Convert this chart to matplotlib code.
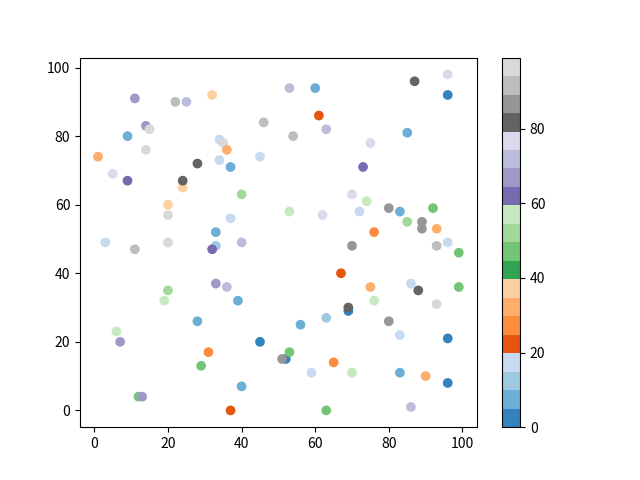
import numpy as np
import matplotlib
matplotlib.use("Agg")
import matplotlib.pyplot as plt

plt.rcParams['font.family'] = ['Noto Sans CJK SC', 'DejaVu Sans']

# Datos: posicion (x, y) y valor de color c
x = [11, 22, 25, 32, 46, 14, 15, 9, 34, 35, 36, 14, 1, 45, 34, 37, 28, 5, 9,
     24, 24, 40, 20, 20, 37, 33, 3, 11, 20, 33, 32, 40,
     53, 60, 87, 96, 96, 61, 63, 54, 85, 75, 73, 70, 74, 53, 62, 72, 80, 83,
     92, 85, 89, 89, 93, 76, 70, 93, 96,
     33, 36, 20, 19, 39, 28, 6, 7, 45, 31, 29, 40, 12, 13, 37,
     99, 67, 75, 86, 88, 99, 76, 93, 69, 69, 63, 56, 80, 83, 96, 52, 51, 53,
     65, 59, 70, 83, 90, 96, 63, 86]
y = [91, 90, 90, 92, 84, 83, 82, 80, 79, 78, 76, 76, 74, 74, 73, 71, 72, 69, 67,
     65, 67, 63, 60, 57, 56, 52, 49, 47, 49, 48, 47, 49,
     94, 94, 96, 98, 92, 86, 82, 80, 81, 78, 71, 63, 61, 58, 57, 58, 59, 58,
     59, 55, 55, 53, 53, 52, 48, 48, 49,
     37, 36, 35, 32, 32, 26, 23, 20, 20, 17, 13, 7, 4, 4, 0,
     46, 40, 36, 37, 35, 36, 32, 31, 29, 30, 27, 25, 26, 22, 21, 15, 15, 17,
     14, 11, 11, 11, 10, 8, 0, 1]
# indice del color dentro de tab20c (20 tramos entre 0 y 99)
tramo = [13, 18, 14, 7, 18, 13, 19, 1, 3, 19, 6, 19, 6, 3, 3, 1, 16, 15, 12,
         7, 16, 10, 7, 19, 3, 1, 3, 18, 19, 2, 12, 14,
         14, 1, 16, 15, 0, 4, 14, 18, 1, 15, 12, 15, 11, 11, 15, 3, 17, 1,
         9, 10, 17, 17, 6, 5, 17, 18, 3,
         13, 14, 10, 11, 1, 1, 11, 13, 0, 5, 9, 1, 9, 13, 4,
         9, 4, 6, 3, 16, 9, 11, 19, 0, 16, 2, 1, 17, 3, 0, 0, 17, 9,
         5, 3, 11, 1, 6, 0, 9, 14]

c = [t * 99 / 20 + 2.4 for t in tramo]

plt.figure(figsize=(6.4, 4.8), dpi=100)
plt.scatter(x, y, c=c, cmap='tab20c', vmin=0, vmax=99)
plt.colorbar()
plt.savefig("out.png")
